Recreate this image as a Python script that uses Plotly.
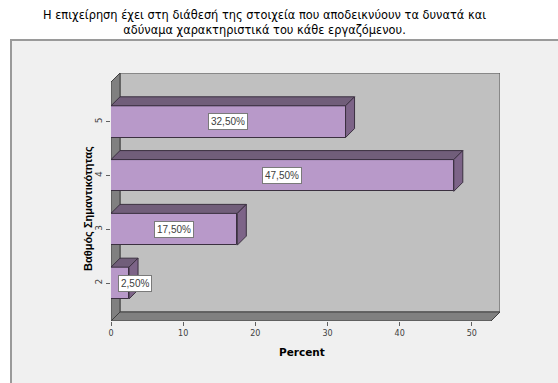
import plotly.graph_objects as go

# Survey result: share of answers per importance grade
categories = [2, 3, 4, 5]
percent = [2.5, 17.5, 47.5, 32.5]
labels = ["2,50%", "17,50%", "47,50%", "32,50%"]
x_ticks = [0, 10, 20, 30, 40, 50]

title_l1 = "Η επιχείρηση έχει στη διάθεσή της στοιχεία που αποδεικνύουν τα δυνατά και"
title_l2 = "αδύναμα χαρακτηριστικά του κάθε εργαζόμενου."

W, H = 558, 383
ML, MR, MT, MB = 111, 58, 73, 62
PW, PH = W - ML - MR, H - MT - MB

X_MAX = 53.9
Y_MIN, Y_MAX = 1.294, 5.905
DX = 9 * X_MAX / PW            # depth offset (x, data units)
DY = 9 * (Y_MAX - Y_MIN) / PH  # depth offset (y, data units)
HALF = 0.295                   # half bar thickness

FRONT = "#b899c9"
TOP = "#715e7a"
SIDE = "#7d6488"
EDGE = "#3b3040"


def px(x):
    return (x - ML) / PW


def py(y):
    return (H - MB - y) / PH


fig = go.Figure()

# front faces of the bars
fig.add_trace(go.Bar(
    x=percent, y=categories, orientation="h", width=2 * HALF,
    marker=dict(color=FRONT, line=dict(color=EDGE, width=1)),
    hoverinfo="skip", showlegend=False,
))

# top and side faces
for c, v in zip(categories, percent):
    top_x = [0, v, v + DX, DX, 0]
    top_y = [c + HALF, c + HALF, c + HALF + DY, c + HALF + DY, c + HALF]
    fig.add_trace(go.Scatter(x=top_x, y=top_y, fill="toself", mode="lines",
                             fillcolor=TOP, line=dict(color=EDGE, width=1),
                             hoverinfo="skip", showlegend=False))
    side_x = [v, v + DX, v + DX, v, v]
    side_y = [c - HALF, c - HALF + DY, c + HALF + DY, c + HALF, c - HALF]
    fig.add_trace(go.Scatter(x=side_x, y=side_y, fill="toself", mode="lines",
                             fillcolor=SIDE, line=dict(color=EDGE, width=1),
                             hoverinfo="skip", showlegend=False))

shapes = [
    # outer chart frame
    dict(type="rect", xref="paper", yref="paper", layer="below",
         x0=px(11), x1=px(575), y0=py(40), y1=py(400),
         fillcolor="#f0f0f0", line=dict(color="#9a9a9a", width=2)),
    # back wall
    dict(type="path", xref="x", yref="y", layer="below",
         path=f"M {DX},{Y_MIN + DY} L {X_MAX},{Y_MIN + DY} L {X_MAX},{Y_MAX} L {DX},{Y_MAX} Z",
         fillcolor="#c0c0c0", line=dict(color="#505050", width=1)),
    # left wall
    dict(type="path", xref="x", yref="y", layer="below",
         path=f"M 0,{Y_MIN} L {DX},{Y_MIN + DY} L {DX},{Y_MAX} L 0,{Y_MAX - DY} Z",
         fillcolor="#808080", line=dict(color="#404040", width=1)),
    # floor
    dict(type="path", xref="x", yref="y", layer="below",
         path=f"M 0,{Y_MIN} L {X_MAX - DX},{Y_MIN} L {X_MAX},{Y_MIN + DY} L {DX},{Y_MIN + DY} Z",
         fillcolor="#808080", line=dict(color="#404040", width=1)),
]

annotations = [
    dict(xref="paper", yref="paper", x=px(264), y=py(22), yanchor="middle",
         showarrow=False, text=title_l1 + "<br>" + title_l2, align="center",
         font=dict(family="DejaVu Sans", size=11.4, color="#000000")),
    dict(xref="paper", yref="paper", x=px(88), y=py(209), showarrow=False,
         xanchor="center", yanchor="middle",
         text="<b>Βαθμός Σημαντικότητας</b>", textangle=-90,
         font=dict(family="Liberation Sans, Arial", size=11, color="#000000")),
    dict(xref="paper", yref="paper", x=px(302), y=py(352), showarrow=False,
         xanchor="center", yanchor="middle",
         text="<b>Percent</b>",
         font=dict(family="DejaVu Sans", size=10.5, color="#000000")),
]

for c, v, t in zip(categories, percent, labels):
    annotations.append(dict(
        x=max(v / 2, 3.35), y=c, xref="x", yref="y", text=t, showarrow=False,
        bgcolor="#ffffff", bordercolor="#7a7a7a", borderwidth=1, borderpad=2,
        font=dict(family="Liberation Sans, Arial", size=10, color="#404040"),
    ))

fig.update_layout(
    width=W, height=H,
    margin=dict(l=ML, r=MR, t=MT, b=MB),
    paper_bgcolor="#ffffff", plot_bgcolor="rgba(0,0,0,0)",
    shapes=shapes, annotations=annotations,
    bargap=0,
    xaxis=dict(range=[0, X_MAX], tickvals=x_ticks, ticks="outside", ticklen=4,
               tickcolor="#606060", showgrid=False, zeroline=False, showline=False,
               tickfont=dict(family="DejaVu Sans", size=8, color="#404040"),
               fixedrange=True),
    yaxis=dict(range=[Y_MIN, Y_MAX], tickvals=categories, ticks="outside", ticklen=4,
               tickcolor="#606060", tickangle=-90, showgrid=False, zeroline=False,
               showline=False,
               tickfont=dict(family="DejaVu Sans", size=9, color="#404040"),
               fixedrange=True),
)

fig.write_html("out.html")
